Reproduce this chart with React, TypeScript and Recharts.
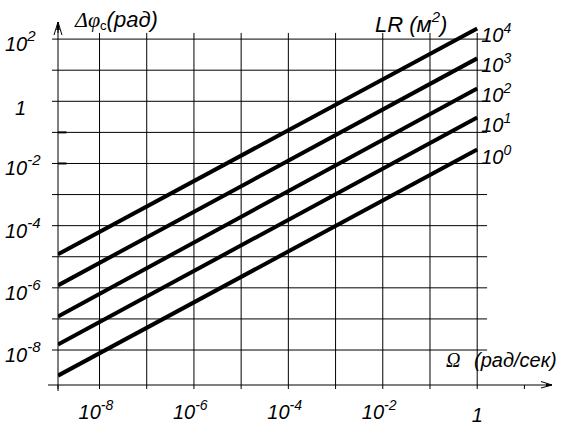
import {
  LineChart,
  Line,
  XAxis,
  YAxis,
  ReferenceLine,
  LabelList,
} from "recharts";

// Ω (рад/сек) at the two ends of every line
const omega = [1.32e-9, 1];
// Δφc (рад) for each LR (м²)
const lr1 = [1.5e-9, 2.8e-2];
const lr10 = [1.5e-8, 0.3];
const lr100 = [1.2e-7, 2.6];
const lr1000 = [1.2e-6, 24];
const lr10000 = [1.2e-5, 220];

const seriesKeys = ["lr1", "lr10", "lr100", "lr1000", "lr10000"];
const seriesExp = ["0", "1", "2", "3", "4"];

const xTicks = [1.32e-9, 1e-8, 1e-7, 1e-6, 1e-5, 1e-4, 1e-3, 1e-2, 1e-1, 1, 10];
const xGrid = [1e-8, 1e-7, 1e-6, 1e-5, 1e-4, 1e-3, 1e-2, 1e-1, 1];
const yTicks = [1e-8, 1e-7, 1e-6, 1e-5, 1e-4, 1e-3, 1e-2, 1e-1, 1, 10, 100];
const yMarks = [1e-2, 1e-1];

const xDomain = [1.32e-9, 31.6];
const yDomain = [7.5e-10, 355];
const gridTop = 158;
const gridRight = 1.62;
const markRight = 2e-9;

const data = omega.map((w, i) => ({
  omega: w,
  lr1: lr1[i],
  lr10: lr10[i],
  lr100: lr100[i],
  lr1000: lr1000[i],
  lr10000: lr10000[i],
}));

const font = "'Liberation Sans', Arial, sans-serif";
const serif = "'Liberation Serif', 'Times New Roman', serif";

const XTick = (props: any) => {
  const { x, y, payload } = props;
  const lg = Math.log10(payload.value);
  const e = Math.round(lg);
  if (Math.abs(lg - e) > 0.01 || e % 2 !== 0 || e > 0) return <g />;
  if (e === 0)
    return (
      <text x={x} y={y + 31} textAnchor="middle" fontFamily={font} fontStyle="italic" fontSize={20} fill="#000">
        1
      </text>
    );
  return (
    <text x={x - 21} y={y + 28} fontFamily={font} fontStyle="italic" fontSize={20} fill="#000">
      10
      <tspan dy={-9} fontSize={14}>
        {e}
      </tspan>
    </text>
  );
};

const YTick = (props: any) => {
  const { x, y, payload } = props;
  const e = Math.round(Math.log10(payload.value));
  if (e % 2 !== 0) return <g />;
  if (e === 0)
    return (
      <text x={x - 35} y={y + 14} fontFamily={font} fontStyle="italic" fontSize={20} fill="#000">
        1
      </text>
    );
  return (
    <text x={x - 45} y={y + 12} fontFamily={font} fontStyle="italic" fontSize={20} fill="#000">
      10
      <tspan dy={-10} fontSize={15}>
        {e}
      </tspan>
    </text>
  );
};

const endLabel = (exp: string) => (props: any) => {
  const { x, y, index } = props;
  if (index !== omega.length - 1) return null;
  return (
    <text x={x + 4} y={y + 14} fontFamily={font} fontStyle="italic" fontSize={20} fill="#000">
      10
      <tspan dy={-9} fontSize={14}>
        {exp}
      </tspan>
    </text>
  );
};

// arrow at the right end of the Ω axis, plus its title
const XAxisDecor = (props: any) => {
  const { x, y, width } = props.viewBox;
  const r = x + width + 4;
  return (
    <g>
      <path d={`M${x - 10},${y} L${x},${y} L${x},${y + 6}`} stroke="#000" strokeWidth={1} fill="none" />
      <path d={`M${r - 5},${y} L${r},${y}`} stroke="#000" strokeWidth={1} fill="none" />
      <path d={`M${r - 11},${y - 3.5} L${r},${y} L${r - 11},${y + 3}`} stroke="#000" strokeWidth={1} fill="none" />
      <path d={`M${r},${y} L${r - 6},${y - 1.5} L${r - 6},${y + 1.5} Z`} fill="#000" />
      <text x={r - 106} y={y - 18} fontFamily={serif} fontStyle="italic" fontSize={20} fill="#000">
        Ω
      </text>
      <text x={r - 78} y={y - 18} fontFamily={font} fontStyle="italic" fontSize={20} fill="#000">
        (рад/сек)
      </text>
    </g>
  );
};

// title of the Δφ axis
const YAxisDecor = (props: any) => {
  const { x, y, width } = props.viewBox;
  const ax = x + width;
  return (
    <text x={ax + 17} y={y + 5} fontSize={22} fill="#000">
      <tspan fontFamily={serif} fontStyle="italic">Δφ</tspan>
      <tspan fontFamily={font} fontSize={13} dy={3}>c</tspan>
      <tspan fontFamily={font} fontStyle="italic" dy={-3}>(рад)</tspan>
    </text>
  );
};

// arrow head at the top of the Δφ axis
const YArrow = (props: any) => {
  const { x, y } = props.viewBox;
  return (
    <g>
      <path d={`M${x - 4},${y + 13} L${x},${y} L${x + 4},${y + 13}`} stroke="#000" strokeWidth={1} fill="none" />
      <path d={`M${x},${y} L${x - 1.8},${y + 8} L${x + 1.8},${y + 8} Z`} fill="#000" />
    </g>
  );
};

export default function App() {
  return (
    <div style={{ position: "absolute", left: 0, top: 0, background: "#fff" }}>
      <LineChart
        width={568}
        height={426}
        data={data}
        margin={{ top: 22, right: 20, bottom: 0, left: 0 }}
      >
        <XAxis
          dataKey="omega"
          type="number"
          scale="log"
          domain={xDomain}
          allowDataOverflow
          ticks={xTicks}
          interval={0}
          height={41}
          tickSize={4}
          stroke="#000"
          axisLine={{ stroke: "#000" }}
          tickLine={{ stroke: "#000" }}
          tick={<XTick />}
          label={{ content: <XAxisDecor /> }}
        />
        <YAxis
          type="number"
          scale="log"
          domain={yDomain}
          allowDataOverflow
          ticks={yTicks}
          interval={0}
          width={58}
          tickSize={6}
          stroke="#000"
          axisLine={{ stroke: "#000" }}
          tickLine={{ stroke: "#000" }}
          tick={<YTick />}
          label={{ content: <YAxisDecor /> }}
        />
        {yTicks.map((v) => (
          <ReferenceLine
            key={"h" + v}
            segment={[
              { x: xDomain[0], y: v },
              { x: gridRight, y: v },
            ]}
            stroke="#000"
            strokeWidth={1}
            ifOverflow="visible"
          />
        ))}
        {yMarks.map((v) => (
          <ReferenceLine
            key={"m" + v}
            segment={[
              { x: xDomain[0], y: v },
              { x: markRight, y: v },
            ]}
            stroke="#000"
            strokeWidth={2}
            ifOverflow="visible"
          />
        ))}
        {xGrid.map((v) => (
          <ReferenceLine
            key={"v" + v}
            segment={[
              { x: v, y: yDomain[0] },
              { x: v, y: gridTop },
            ]}
            stroke="#000"
            strokeWidth={1}
            ifOverflow="visible"
          />
        ))}
        <ReferenceLine
          segment={[
            { x: xDomain[0], y: gridTop },
            { x: xDomain[0], y: yDomain[1] },
          ]}
          stroke="#000"
          strokeWidth={1}
          ifOverflow="visible"
          label={{ content: <YArrow /> }}
        />
        {seriesKeys.map((k, i) => (
          <Line
            key={k}
            dataKey={k}
            type="linear"
            stroke="#000"
            strokeWidth={4}
            dot={false}
            isAnimationActive={false}
          >
            <LabelList dataKey={k} content={endLabel(seriesExp[i])} />
          </Line>
        ))}
        <text x={375} y={32} fontSize={22} fill="#000" fontFamily={font} fontStyle="italic">
          LR (м
          <tspan dy={-10} fontSize={15}>2</tspan>
          <tspan dy={10}>)</tspan>
        </text>
      </LineChart>
    </div>
  );
}
